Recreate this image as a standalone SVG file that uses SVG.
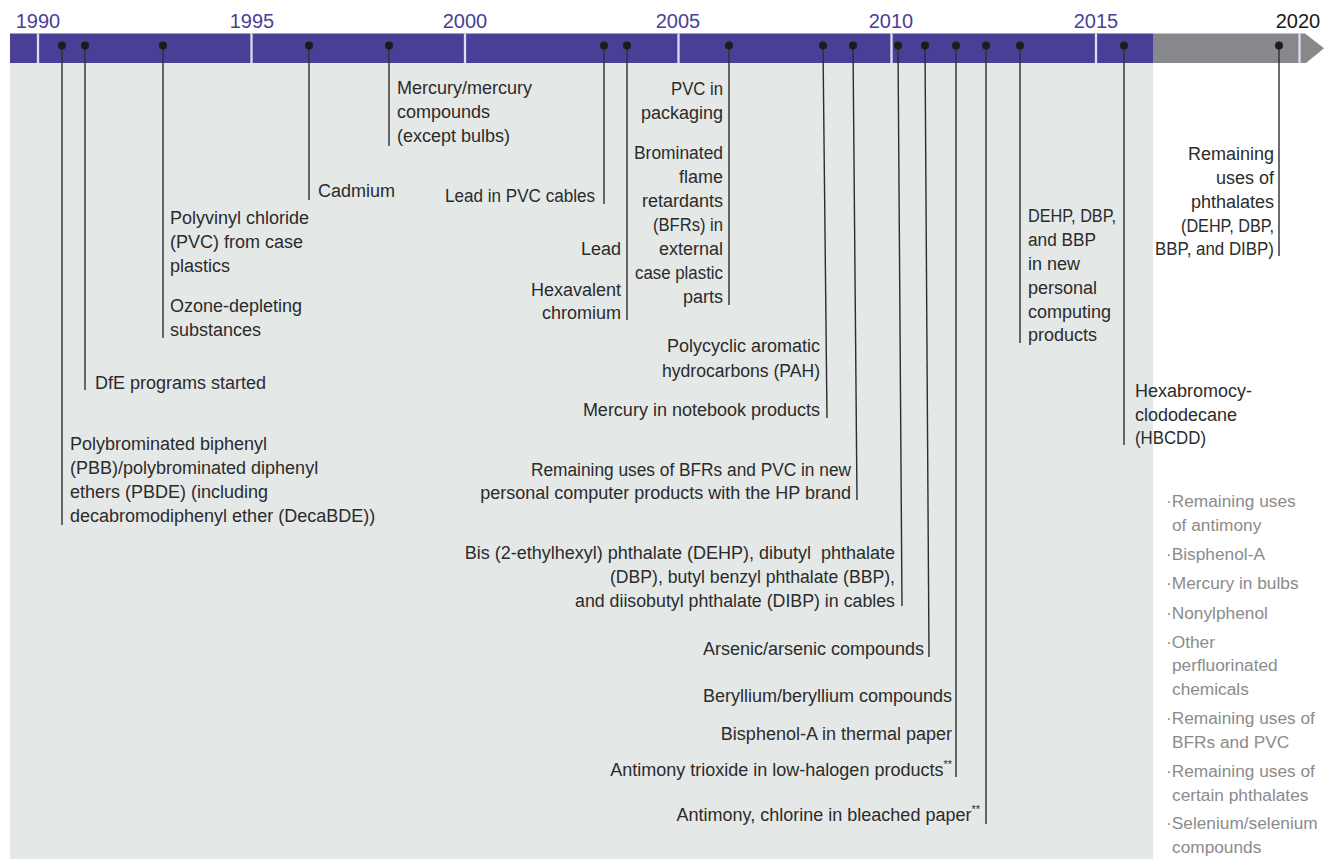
<svg xmlns="http://www.w3.org/2000/svg" width="1324" height="859" viewBox="0 0 1324 859">
  <style>
    .yr { font-family: "Liberation Sans", Arial, sans-serif; font-size: 20px; fill: #4a3f97; text-anchor: middle; }
    .yr.now { fill: #1a1a1a; }
    .lbl { font-family: "Liberation Sans", Arial, sans-serif; font-size: 18px; fill: #2b2b2b; }
    .end { text-anchor: end; }
    .future { font-family: "Liberation Sans", Arial, sans-serif; font-size: 17.3px; fill: #8b8b8b; }
    .sep { stroke: #dedcf0; stroke-width: 2.3; }
    .dot { fill: #1c1c1c; }
    .lead { stroke: #2e2e2e; stroke-width: 1.4; fill: none; }
    .sup { font-size: 11px; }
  </style>

  <!-- background -->
  <rect x="0" y="0" width="1324" height="859" fill="#ffffff"/>
  <rect x="10" y="63" width="1143" height="796" fill="#e4e8e7"/>

  <!-- time bar -->
  <g id="timebar">
    <rect x="10" y="33.5" width="1143" height="29.5" fill="#4a3f97"/>
    <path d="M1153,33.5 H1305 L1324,48.3 L1306,63 H1153 Z" fill="#87888c"/>
    <line class="sep" x1="38" y1="33.5" x2="38" y2="63"/>
    <line class="sep" x1="251.5" y1="33.5" x2="251.5" y2="63"/>
    <line class="sep" x1="465" y1="33.5" x2="465" y2="63"/>
    <line class="sep" x1="678.5" y1="33.5" x2="678.5" y2="63"/>
    <line class="sep" x1="891.5" y1="33.5" x2="891.5" y2="63"/>
    <line class="sep" x1="1096" y1="33.5" x2="1096" y2="63"/>
    <line class="sep" x1="1299.5" y1="33.5" x2="1299.5" y2="63"/>
    <text class="yr" x="38" y="28">1990</text>
    <text class="yr" x="252" y="28">1995</text>
    <text class="yr" x="465" y="28">2000</text>
    <text class="yr" x="678" y="28">2005</text>
    <text class="yr" x="891" y="28">2010</text>
    <text class="yr" x="1096" y="28">2015</text>
    <text class="yr now" x="1298" y="28">2020</text>
  </g>

  <!-- leader lines from the bar to each label block -->
  <g id="connectors">
    <line class="lead" x1="62" y1="46" x2="62" y2="525"/>
    <line class="lead" x1="85" y1="46" x2="85" y2="390"/>
    <line class="lead" x1="163" y1="46" x2="163" y2="338"/>
    <line class="lead" x1="309" y1="46" x2="309" y2="200"/>
    <line class="lead" x1="389" y1="46" x2="389" y2="146"/>
    <line class="lead" x1="604" y1="46" x2="604" y2="204"/>
    <line class="lead" x1="627" y1="46" x2="627" y2="320"/>
    <line class="lead" x1="729" y1="46" x2="729" y2="305"/>
    <line class="lead" x1="823" y1="46" x2="827" y2="418"/>
    <line class="lead" x1="853" y1="46" x2="857" y2="500"/>
    <line class="lead" x1="898" y1="46" x2="902" y2="606"/>
    <line class="lead" x1="925" y1="46" x2="929" y2="657"/>
    <line class="lead" x1="956" y1="46" x2="956" y2="777"/>
    <line class="lead" x1="986" y1="46" x2="986" y2="824"/>
    <line class="lead" x1="1020" y1="46" x2="1020" y2="343"/>
    <line class="lead" x1="1124" y1="46" x2="1124" y2="445"/>
    <line class="lead" x1="1279" y1="46" x2="1279" y2="256"/>
  </g>

  <!-- events -->
  <g id="ev-pbb">
    <circle class="dot" cx="62" cy="45.5" r="4"/>
    <text class="lbl" x="70" y="450">Polybrominated biphenyl</text>
    <text class="lbl" x="70" y="474">(PBB)/polybrominated diphenyl</text>
    <text class="lbl" x="70" y="498">ethers (PBDE) (including</text>
    <text class="lbl" x="70" y="522">decabromodiphenyl ether (DecaBDE))</text>
  </g>
  <g id="ev-dfe">
    <circle class="dot" cx="85" cy="45.5" r="4"/>
    <text class="lbl" x="95" y="389">DfE programs started</text>
  </g>
  <g id="ev-pvc-case">
    <circle class="dot" cx="163" cy="45.5" r="4"/>
    <text class="lbl" x="170" y="224">Polyvinyl chloride</text>
    <text class="lbl" x="170" y="248">(PVC) from case</text>
    <text class="lbl" x="170" y="272">plastics</text>
    <text class="lbl" x="170" y="312">Ozone-depleting</text>
    <text class="lbl" x="170" y="336">substances</text>
  </g>
  <g id="ev-cadmium">
    <circle class="dot" cx="309" cy="45.5" r="4"/>
    <text class="lbl" x="318" y="197">Cadmium</text>
  </g>
  <g id="ev-mercury">
    <circle class="dot" cx="389" cy="45.5" r="4"/>
    <text class="lbl" x="397" y="94">Mercury/mercury</text>
    <text class="lbl" x="397" y="118">compounds</text>
    <text class="lbl" x="397" y="142">(except bulbs)</text>
  </g>
  <g id="ev-lead-cables">
    <circle class="dot" cx="604" cy="45.5" r="4"/>
    <text class="lbl end" x="595" y="202" textLength="150" lengthAdjust="spacingAndGlyphs">Lead in PVC cables</text>
  </g>
  <g id="ev-lead">
    <circle class="dot" cx="627" cy="45.5" r="4"/>
    <text class="lbl end" x="621" y="255">Lead</text>
    <text class="lbl end" x="621" y="296">Hexavalent</text>
    <text class="lbl end" x="621" y="319">chromium</text>
  </g>
  <g id="ev-pvc-bfr">
    <circle class="dot" cx="729" cy="45.5" r="4"/>
    <text class="lbl end" x="723" y="95" textLength="52" lengthAdjust="spacingAndGlyphs">PVC in</text>
    <text class="lbl end" x="723" y="119">packaging</text>
    <text class="lbl end" x="723" y="159" textLength="89" lengthAdjust="spacingAndGlyphs">Brominated</text>
    <text class="lbl end" x="723" y="183">flame</text>
    <text class="lbl end" x="723" y="207">retardants</text>
    <text class="lbl end" x="723" y="231" textLength="70" lengthAdjust="spacingAndGlyphs">(BFRs) in</text>
    <text class="lbl end" x="723" y="255">external</text>
    <text class="lbl end" x="723" y="279" textLength="88" lengthAdjust="spacingAndGlyphs">case plastic</text>
    <text class="lbl end" x="723" y="303">parts</text>
  </g>
  <g id="ev-pah">
    <circle class="dot" cx="823" cy="45.5" r="4"/>
    <text class="lbl end" x="820" y="352">Polycyclic aromatic</text>
    <text class="lbl end" x="820" y="377" textLength="158" lengthAdjust="spacingAndGlyphs">hydrocarbons (PAH)</text>
    <text class="lbl end" x="820" y="416">Mercury in notebook products</text>
  </g>
  <g id="ev-bfr-pvc">
    <circle class="dot" cx="853" cy="45.5" r="4"/>
    <text class="lbl end" x="851" y="476" textLength="320" lengthAdjust="spacingAndGlyphs">Remaining uses of BFRs and PVC in new</text>
    <text class="lbl end" x="851" y="499">personal computer products with the HP brand</text>
  </g>
  <g id="ev-phthalates-cables">
    <circle class="dot" cx="898" cy="45.5" r="4"/>
    <text class="lbl end" x="895" y="559" xml:space="preserve">Bis (2-ethylhexyl) phthalate (DEHP), dibutyl  phthalate</text>
    <text class="lbl end" x="895" y="583" textLength="285" lengthAdjust="spacingAndGlyphs">(DBP), butyl benzyl phthalate (BBP),</text>
    <text class="lbl end" x="895" y="607" textLength="320" lengthAdjust="spacingAndGlyphs">and diisobutyl phthalate (DIBP) in cables</text>
  </g>
  <g id="ev-arsenic">
    <circle class="dot" cx="925" cy="45.5" r="4"/>
    <text class="lbl end" x="924" y="655">Arsenic/arsenic compounds</text>
  </g>
  <g id="ev-beryllium">
    <circle class="dot" cx="956" cy="45.5" r="4"/>
    <text class="lbl end" x="952" y="702">Beryllium/beryllium compounds</text>
    <text class="lbl end" x="952" y="740">Bisphenol-A in thermal paper</text>
    <text class="lbl end" x="952" y="776">Antimony trioxide in low-halogen products<tspan class="sup" dy="-8">**</tspan></text>
  </g>
  <g id="ev-antimony-paper">
    <circle class="dot" cx="986" cy="45.5" r="4"/>
    <text class="lbl end" x="980" y="821">Antimony, chlorine in bleached paper<tspan class="sup" dy="-8">**</tspan></text>
  </g>
  <g id="ev-dehp-pc">
    <circle class="dot" cx="1020" cy="45.5" r="4"/>
    <text class="lbl" x="1028" y="222" textLength="88" lengthAdjust="spacingAndGlyphs">DEHP, DBP,</text>
    <text class="lbl" x="1028" y="246" textLength="68" lengthAdjust="spacingAndGlyphs">and BBP</text>
    <text class="lbl" x="1028" y="270">in new</text>
    <text class="lbl" x="1028" y="294">personal</text>
    <text class="lbl" x="1028" y="318">computing</text>
    <text class="lbl" x="1028" y="341">products</text>
  </g>
  <g id="ev-hbcdd">
    <circle class="dot" cx="1124" cy="45.5" r="4"/>
    <text class="lbl" x="1135" y="397">Hexabromocy-</text>
    <text class="lbl" x="1135" y="421">clododecane</text>
    <text class="lbl" x="1135" y="444" textLength="71" lengthAdjust="spacingAndGlyphs">(HBCDD)</text>
  </g>
  <g id="ev-phthalates-2020">
    <circle class="dot" cx="1279" cy="45.5" r="4"/>
    <text class="lbl end" x="1274" y="160">Remaining</text>
    <text class="lbl end" x="1274" y="184">uses of</text>
    <text class="lbl end" x="1274" y="208">phthalates</text>
    <text class="lbl end" x="1274" y="232" textLength="93" lengthAdjust="spacingAndGlyphs">(DEHP, DBP,</text>
    <text class="lbl end" x="1274" y="255" textLength="119" lengthAdjust="spacingAndGlyphs">BBP, and DIBP)</text>
  </g>

  <!-- future phase-outs -->
  <g id="future-list">
    <text class="future" x="1166" y="507">·Remaining uses</text>
    <text class="future" x="1172" y="531">of antimony</text>
    <text class="future" x="1166" y="560">·Bisphenol-A</text>
    <text class="future" x="1166" y="589">·Mercury in bulbs</text>
    <text class="future" x="1166" y="619">·Nonylphenol</text>
    <text class="future" x="1166" y="648">·Other</text>
    <text class="future" x="1172" y="671">perfluorinated</text>
    <text class="future" x="1172" y="695">chemicals</text>
    <text class="future" x="1166" y="724">·Remaining uses of</text>
    <text class="future" x="1172" y="748">BFRs and PVC</text>
    <text class="future" x="1166" y="777">·Remaining uses of</text>
    <text class="future" x="1172" y="801">certain phthalates</text>
    <text class="future" x="1166" y="829">·Selenium/selenium</text>
    <text class="future" x="1172" y="853">compounds</text>
  </g>
</svg>
